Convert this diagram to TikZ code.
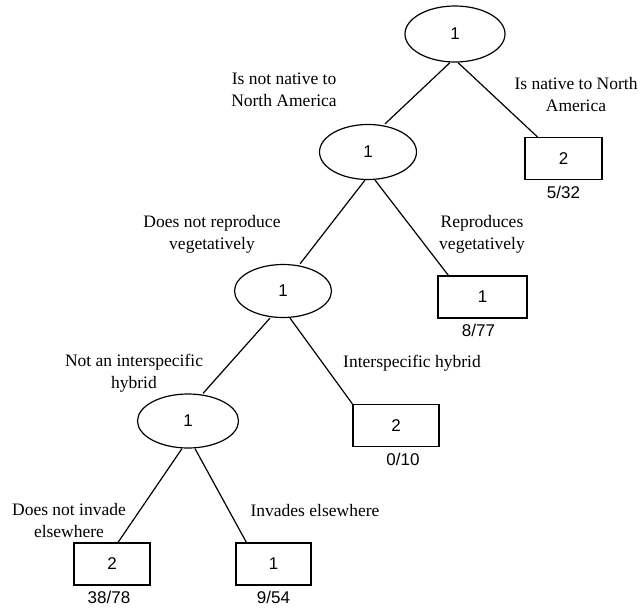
\documentclass[tikz,border=0pt]{standalone}
\usepackage{fontspec}
\setmainfont{Liberation Serif}
\newfontfamily\numfont{Liberation Sans}
\usetikzlibrary{shapes.geometric,positioning}

\begin{document}
\begin{tikzpicture}[x=1pt,y=-1pt,line width=1.2pt,
    split/.style={draw, ellipse, inner sep=0pt, font=\numfont\fontsize{17}{20}\selectfont},
    leaf/.style={draw, rectangle, inner sep=0pt, minimum height=42pt, font=\numfont\fontsize{17}{20}\selectfont},
    cond/.style={align=center, inner sep=0pt, font=\fontsize{17.5}{22}\selectfont},
    count/.style={inner sep=1pt, font=\numfont\fontsize{17}{20}\selectfont}]
    \useasboundingbox (0,0) rectangle (644,610);
    % splits
    \node[split, minimum width=100pt, minimum height=56pt] (n1) at (455,34) {1};
    \node[split, minimum width=97pt, minimum height=55pt] (n2) at (368,152) {1};
    \node[split, minimum width=97pt, minimum height=53pt] (n3) at (283,291) {1};
    \node[split, minimum width=101pt, minimum height=54pt] (n4) at (188,421) {1};
    % leaves with their counts
    \node[leaf, minimum width=77pt] (l1) at (563.5,158.5) {2};
    \node[leaf, minimum width=89pt] (l2) at (482.5,297) {1};
    \node[leaf, minimum width=86pt] (l3) at (396,425.5) {2};
    \node[leaf, minimum width=76pt] (l4) at (112,564) {2};
    \node[leaf, minimum width=75pt] (l5) at (273.5,564) {1};
    \node[count, below=4pt of l1] (k1) {5/32};
    \node[count, below=4pt of l2, xshift=-4pt] (k2) {8/77};
    \node[count, below=4pt of l3, xshift=7pt] (k3) {0/10};
    \node[count, below=4pt of l4, xshift=-3pt] (k4) {38/78};
    \node[count, below=4pt of l5] (k5) {9/54};
    % branches
    \draw ([xshift=-5pt]n1.south) -- ([xshift=17pt]n2.north);
    \draw ([xshift=3pt]n1.south) -- ([xshift=13pt]l1.north west);
    \draw ([xshift=-3pt]n2.south) -- ([xshift=17pt]n3.north);
    \draw ([xshift=7pt]n2.south) -- ([xshift=11pt]l2.north west);
    \draw ([xshift=-13pt]n3.south) -- ([xshift=15pt]n4.north);
    \draw ([xshift=7pt]n3.south) -- (l3.north west);
    \draw ([xshift=-6pt]n4.south) -- ([xshift=6pt]l4.north);
    \draw ([xshift=7pt]n4.south) -- ([xshift=11pt]l5.north west);
    % conditions
    \node[cond] (c1) at (284,90) {Is not native to\\North America};
    \node[cond] (c2) at (576,95) {Is native to North\\America};
    \node[cond] (c3) at (212,234) {Does not reproduce\\vegetatively};
    \node[cond] (c4) at (482,234) {Reproduces\\vegetatively};
    \node[cond] (c5) at (134,373) {Not an interspecific\\hybrid};
    \node[cond] (c6) at (412,363) {Interspecific hybrid};
    \node[cond] (c7) at (69,521) {Does not invade\\elsewhere};
    \node[cond] (c8) at (315,511) {Invades elsewhere};
\end{tikzpicture}
\end{document}
